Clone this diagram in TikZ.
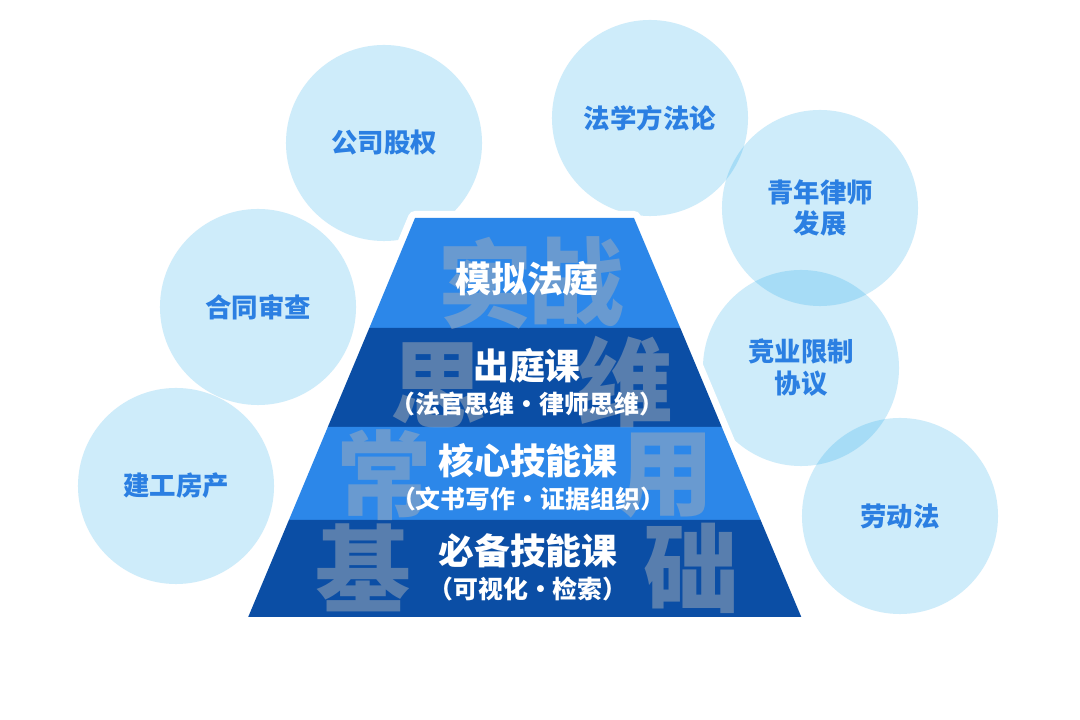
\documentclass[tikz,border=0pt]{standalone}
\usepackage{fontspec}
\usepackage{xcolor}
\usepackage{tikz}
\usetikzlibrary{positioning}
\newfontfamily\cjk{Noto Sans CJK SC}
\definecolor{bandlight}{HTML}{2C87E9}
\definecolor{banddark}{HTML}{0B4EA5}
\definecolor{ghostgray}{HTML}{A6AEB8}
\definecolor{bubblecyan}{HTML}{0AA0E6}
\definecolor{bubbletext}{HTML}{2B7FE2}

\begin{document}
\begin{tikzpicture}[x=0.025cm, y=-0.025cm,
  bubble/.style={circle, minimum size=4.9cm, inner sep=0pt, fill=bubblecyan, fill opacity=0.2,
    text opacity=1, text=bubbletext, align=center, font=\cjk\bfseries\fontsize{18.8}{22.7}\selectfont},
  ghost/.style={text=ghostgray, text opacity=0.5, inner sep=0pt, font=\cjk\bfseries\fontsize{68}{68}\selectfont},
  title/.style={text=white, inner sep=0pt, font=\cjk\bfseries\fontsize{25.5}{25.5}\selectfont},
  subtitle/.style={text=white, inner sep=0pt, font=\cjk\bfseries\fontsize{17.7}{17.7}\selectfont}]
  \useasboundingbox (0,0) rectangle (1080,720);
  \fill[white] (0,0) rectangle (1080,720);

  % bubbles round the pyramid
  \node[bubble] (gsgq) at (384,143) {公司股权};
  \node[bubble] (htsc) at (258,307) {合同审查};
  \node[bubble] (jgfc) at (176,486) {建工房产};
  \node[bubble] (fxffl) at (650,118) {法学方法论};
  \node[bubble] (qnls) at (820,208) {青年律师\\发展};
  \node[bubble] (jyxz) at (801,368) {竞业限制\\协议};
  \node[bubble] (ldf) at (900,516) {劳动法};

  % pyramid, white rim first
  \draw[white, line width=10pt, line join=round] (415,218) -- (634,218) -- (801.3,617) -- (248.2,617) -- cycle;
  \fill[bandlight] (415,218) -- (634,218) -- (680.3,328) -- (369.3,328) -- cycle;
  \fill[banddark] (369.3,328) -- (680.3,328) -- (721.8,427) -- (327.8,427) -- cycle;
  \fill[bandlight] (327.8,427) -- (721.8,427) -- (760.6,520) -- (288.9,520) -- cycle;
  \fill[banddark] (288.9,520) -- (760.6,520) -- (801.3,617) -- (248.2,617) -- cycle;

  % big letters behind
  \node[ghost] (shi) at (485,283) {实};
  \node[ghost] (zhan) at (576,282) {战};
  \node[ghost] (si) at (438,385) {思};
  \node[ghost] (wei) at (625,382) {维};
  \node[ghost] (chang) at (384,475) {常};
  \node[ghost] (yong) at (666,476) {用};
  \node[ghost] (ji) at (363,568) {基};
  \node[ghost] (chu) at (691,568) {础};

  % course labels
  \node[title] (mnft) at (527,279) {模拟法庭};
  \node[title] (ctk) at (527,366) {出庭课};
  \node[subtitle, below=0.2cm of ctk] (ctks) {（法官思维·律师思维）};
  \node[title] (hxjn) at (528,461) {核心技能课};
  \node[subtitle, below=0.2cm of hxjn] (hxjns) {（文书写作·证据组织）};
  \node[title] (bbjn) at (528,551) {必备技能课};
  \node[subtitle, below=0.2cm of bbjn] (bbjns) {（可视化·检索）};
\end{tikzpicture}
\end{document}
